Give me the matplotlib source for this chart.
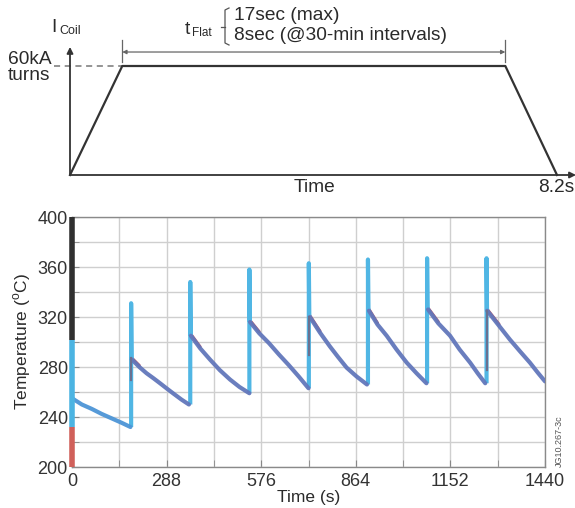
import numpy as np
import matplotlib
matplotlib.use('Agg')
import matplotlib.pyplot as plt

plt.rcParams['font.family'] = ['Liberation Sans', 'DejaVu Sans']
plt.rcParams['mathtext.fontset'] = 'custom'
plt.rcParams['mathtext.rm'] = 'Liberation Sans'

# coil current schematic (s, kA turns)
coil_t = [0, 0.88, 7.33, 8.2]
coil_i = [0, 60, 60, 0]

# temperature traces, one decay per interval
decay_t = [
    [0, 30, 60, 90, 120, 150, 178],
    [182, 205, 227, 248, 268, 290, 310, 333, 356],
    [362, 390, 420, 450, 481, 510, 540],
    [542, 570, 600, 630, 660, 690, 720],
    [724, 755, 785, 810, 836, 866, 898],
    [904, 930, 958, 988, 1019, 1049, 1079],
    [1084, 1115, 1151, 1180, 1212, 1235, 1258],
    [1264, 1300, 1333, 1364, 1394, 1418, 1440],
]
decay_T = [
    [255, 250, 246.5, 242.5, 239, 235.5, 232],
    [286, 280, 275, 271, 267, 262.5, 258.5, 254, 250],
    [305, 295, 286, 277.5, 270, 264, 259],
    [316, 307, 299, 290, 281.5, 272.5, 263],
    [320, 307.5, 296.5, 288, 279.5, 272.5, 266],
    [325, 314, 305, 294, 283.5, 275, 267],
    [326, 315, 305, 294, 283.5, 275, 267],
    [325, 313, 302, 292.5, 283.5, 275.5, 268.5],
]

# heating pulses
pulse_t = [180, 360, 540, 721, 901, 1081, 1262]
pulse_min = [232, 250, 259, 263, 266, 267, 267]
pulse_peak = [331, 348, 358, 363, 366, 367, 367]
pulse_after = [286, 305, 316, 320, 325, 326, 325]

# short dark segments at some pulses
dark_t = [181, 722, 1263]
dark_lo = [270, 290, 278]
dark_hi = [287, 320, 325]

# coloured bands on the left axis
band_lo = [200, 232, 302]
band_hi = [232, 302, 400]
band_col = ['#d0605a', '#4cb4e2', '#303030']

fig = plt.figure(figsize=(5.75, 5.08), dpi=100)
W, H = 575.0, 508.0

# ---- top schematic ----
ax_top = fig.add_axes([70 / W, (H - 175) / H, 487 / W, 109 / H])
ax_top.set_xlim(0, 8.2)
ax_top.set_ylim(0, 60)
ax_top.axis('off')
ax_top.plot(coil_t, coil_i, color='#333333', lw=1.6, clip_on=False, zorder=3)
arrow_kw = dict(arrowstyle='-|>', color='#333333', lw=1.3,
                mutation_scale=9, shrinkA=0, shrinkB=0)
ax_top.annotate('', xy=(8.52, 0), xytext=(0, 0), arrowprops=arrow_kw,
                annotation_clip=False)
ax_top.annotate('', xy=(0, 70.5), xytext=(0, 0), arrowprops=arrow_kw,
                annotation_clip=False)
ax_top.plot([-0.27, coil_t[1]], [60, 60], color='#777777', lw=1.1,
            ls=(0, (4, 3)), clip_on=False)
ax_top.annotate('', xy=(coil_t[1], 67.7), xytext=(coil_t[2], 67.7),
                arrowprops=dict(arrowstyle='<|-|>', color='#666666', lw=0.9,
                                mutation_scale=6, shrinkA=0, shrinkB=0),
                annotation_clip=False)
for tx in coil_t[1:3]:
    ax_top.plot([tx, tx], [62.2, 74.5], color='#666666', lw=0.9, clip_on=False)

# text overlay in pixel coordinates
ov = fig.add_axes([0, 0, 1, 1], zorder=5)
ov.set_xlim(0, W)
ov.set_ylim(H, 0)
ov.axis('off')
tc = '#2a2a2a'
fs = 13.8
ov.text(51, 27, 'I', fontsize=fs, color=tc, va='center', ha='left')
ov.text(59, 31, 'Coil', fontsize=9, color=tc, va='center', ha='left')
ov.text(8, 59, '60kA', fontsize=fs, color=tc, va='center', ha='left')
ov.text(8, 75, 'turns', fontsize=fs, color=tc, va='center', ha='left')
ov.text(185, 29, 't', fontsize=fs, color=tc, va='center', ha='left')
ov.text(192, 33, 'Flat', fontsize=8.5, color=tc, va='center', ha='left')
ov.plot([229, 225, 225, 229], [8, 10, 43, 45], color='#555555', lw=0.9)
ov.plot([221, 225], [27, 27], color='#555555', lw=0.9)
ov.text(234, 15, '17sec (max)', fontsize=fs, color=tc, va='center', ha='left')
ov.text(234, 35, '8sec (@30-min intervals)', fontsize=fs, color=tc,
        va='center', ha='left')
ov.text(314, 187, 'Time', fontsize=fs, color=tc, va='center', ha='center')
ov.text(574, 187, '8.2s', fontsize=fs, color=tc, va='center', ha='right')
ov.text(559, 441, 'JG10.267-3c', fontsize=6.5, color='#555555', rotation=90,
        va='center', ha='center')

# ---- bottom temperature plot ----
ax = fig.add_axes([72 / W, (H - 467) / H, 473 / W, 250 / H])
ax.set_xlim(0, 1440)
ax.set_ylim(200, 400)
ax.set_xticks(np.arange(0, 1441, 288))
ax.set_xticks(np.arange(144, 1440, 288), minor=True)
ax.set_yticks(np.arange(200, 401, 40))
ax.set_yticks(np.arange(220, 400, 40), minor=True)
ax.grid(True, which='both', color='#cfcfcf', lw=1.0)
ax.set_axisbelow(True)
ax.tick_params(which='both', direction='in', color='#888888', length=5,
               labelsize=13, labelcolor='#333333')
ax.tick_params(axis='x', pad=4)
ax.tick_params(axis='y', pad=3)
for s in ax.spines.values():
    s.set_color('#8a8a8a')
    s.set_linewidth(1.0)

# red trace tint at the start of decays
for k in range(1, len(decay_t)):
    ax.plot(decay_t[k][:2], np.array(decay_T[k][:2]) + 1.2, color='#b05a6e',
            lw=2.2, solid_capstyle='round', zorder=3)

# pulses (light blue)
for k in range(len(pulse_t)):
    ax.plot([pulse_t[k], pulse_t[k], pulse_t[k] + 1.5],
            [pulse_min[k], pulse_peak[k], pulse_after[k]],
            color='#50b6e4', lw=3, zorder=4, solid_capstyle='butt')

for k in range(len(dark_t)):
    ax.plot([dark_t[k], dark_t[k]], [dark_lo[k], dark_hi[k]],
            color='#6a7090', lw=1.6, zorder=5)

# decays
for k in range(len(decay_t)):
    c = '#4d95d6' if k == 0 else '#6277bb'
    ax.plot(decay_t[k], decay_T[k], color=c, lw=3, zorder=4,
            solid_capstyle='round', solid_joinstyle='round', alpha=0.95)

# left axis bands
for lo, hi, c in zip(band_lo, band_hi, band_col):
    ax.plot([0, 0], [lo, hi], color=c, lw=4, zorder=6, clip_on=False,
            solid_capstyle='butt')

ax.set_xlabel('Time (s)', fontsize=12.5, color='#2a2a2a', labelpad=0)
ax.set_ylabel('Temperature ($^{\\mathrm{o}}$C)', fontsize=12.5, color='#2a2a2a',
              labelpad=3)

fig.savefig('out.png', dpi=100)
